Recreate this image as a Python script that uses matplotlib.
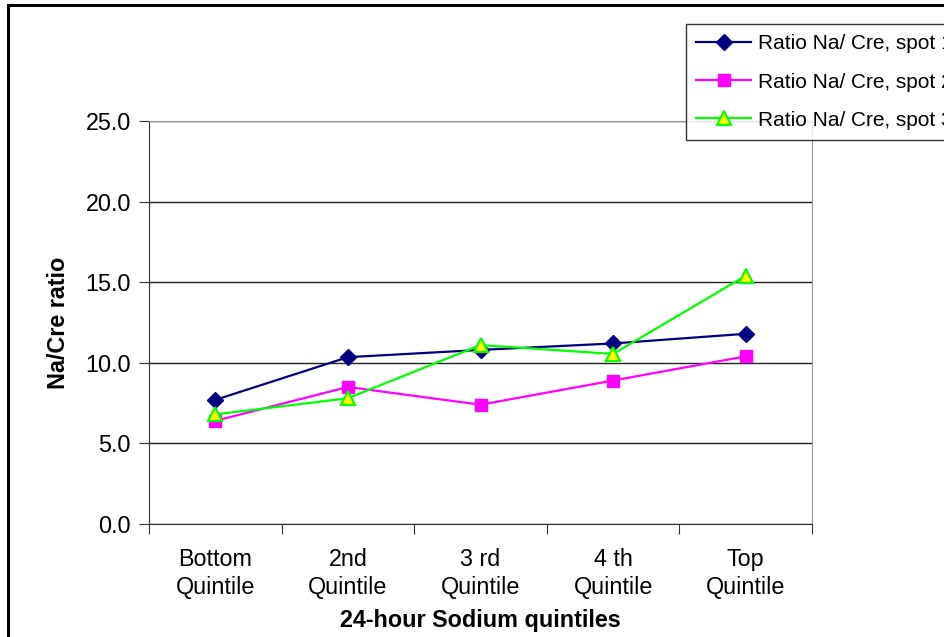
import matplotlib
matplotlib.use("Agg")
import matplotlib.pyplot as plt
from matplotlib.patches import Rectangle
import numpy as np

plt.rcParams['font.family'] = ['Liberation Sans', 'DejaVu Sans']

categories = ["Bottom\nQuintile", "2nd\nQuintile", "3 rd\nQuintile", "4 th\nQuintile", "Top\nQuintile"]
spot1 = [7.7, 10.35, 10.8, 11.2, 11.8]
spot2 = [6.4, 8.5, 7.4, 8.9, 10.4]
spot3 = [6.8, 7.8, 11.1, 10.55, 15.4]
labels = ["Ratio Na/ Cre, spot 1", "Ratio Na/ Cre, spot 2", "Ratio Na/ Cre, spot 3"]

W, H = 944, 637
fs = 16.8
fig = plt.figure(figsize=(W / 100, H / 100), dpi=100)
ax = fig.add_axes([149 / W, 1 - 524 / H, (812 - 149) / W, (524 - 121) / H])

x = np.arange(len(categories)) + 0.5
ax.plot(x, spot1, color="#000080", marker="D", markersize=8, lw=1.6, label=labels[0])
ax.plot(x, spot2, color="#FF00FF", marker="s", markersize=8, lw=1.6, label=labels[1])
ax.plot(x, spot3, color="#00FF00", marker="^", markersize=10, lw=1.6,
        markerfacecolor="#FFFF00", markeredgecolor="#00FF00", markeredgewidth=1.5, label=labels[2])

ax.set_xlim(0, 5)
ax.set_ylim(0, 25)
ax.set_yticks(np.arange(0, 26, 5))
ax.set_yticklabels(["%.1f" % v for v in np.arange(0, 26, 5)], fontsize=fs)
ax.set_xticks(np.arange(0, 6))
ax.set_xticklabels([])
ax.set_xticks(x, minor=True)
ax.set_xticklabels(categories, minor=True, fontsize=fs, linespacing=1.3)
ax.tick_params(axis="x", which="minor", length=0, pad=17)
ax.tick_params(axis="x", which="major", length=7, color="#333333")
ax.tick_params(axis="y", length=7, pad=6, color="#333333")
ax.grid(axis="y", color="#222222", lw=1)
ax.set_axisbelow(True)

ax.spines["left"].set_color("#333333")
ax.spines["bottom"].set_color("#333333")
ax.spines["top"].set_color("#999999")
ax.spines["right"].set_color("#999999")

ax.set_xlabel("24-hour Sodium quintiles", fontsize=fs, fontweight="bold", labelpad=7)
ax.set_ylabel("Na/Cre ratio", fontsize=fs, fontweight="bold", labelpad=11)

leg = fig.legend(loc="upper left", bbox_to_anchor=(686 / W, 1 - 24 / H), fontsize=15,
                 frameon=True, fancybox=False, edgecolor="black", handlelength=2.6,
                 labelspacing=0.92, borderpad=0.5, handletextpad=0.35, borderaxespad=0)
leg.get_frame().set_linewidth(1.0)

# outer chart border (cut off at right and bottom)
fig.patches.append(Rectangle((8 / W, -0.1), 1.2, 1 - 5 / H + 0.1, transform=fig.transFigure,
                             fill=False, edgecolor="black", lw=2.2))

fig.savefig("out.png", dpi=100)
